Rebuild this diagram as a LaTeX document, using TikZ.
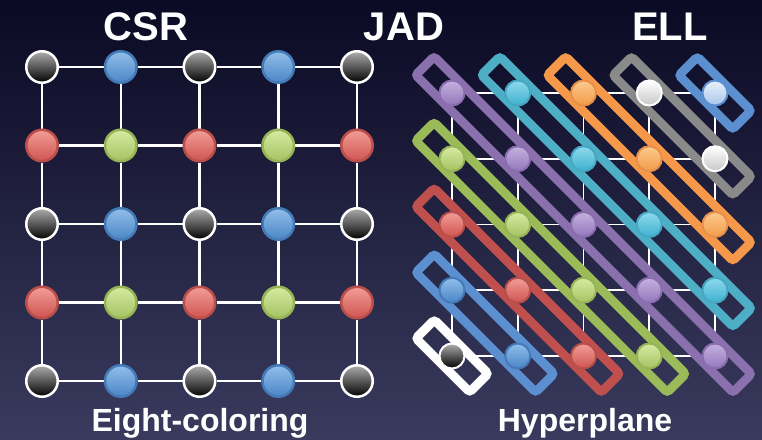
\documentclass[tikz,border=0pt]{standalone}
\usepackage{xcolor}
\usepackage{fontspec}
\setmainfont{Liberation Sans}
\usepackage{tikz}
\usetikzlibrary{positioning}
\pgfdeclarelayer{sky}
\pgfdeclarelayer{wires}
\pgfsetlayers{sky,wires,main}

\definecolor{SkyTop}{HTML}{0A0A24}
\definecolor{SkyBot}{HTML}{3A3A5E}
\definecolor{BlueTop}{HTML}{92BEEA}
\definecolor{BlueBot}{HTML}{4A86C6}
\definecolor{BlueRim}{HTML}{447AB6}
\definecolor{RedTop}{HTML}{F29D98}
\definecolor{RedBot}{HTML}{CF544F}
\definecolor{RedRim}{HTML}{B94E4A}
\definecolor{GreenTop}{HTML}{D6EAA2}
\definecolor{GreenBot}{HTML}{A4C362}
\definecolor{GreenRim}{HTML}{96B456}
\definecolor{PurpleTop}{HTML}{C5B2DF}
\definecolor{PurpleBot}{HTML}{9476BA}
\definecolor{PurpleRim}{HTML}{8A6DAE}
\definecolor{CyanTop}{HTML}{8FDAEE}
\definecolor{CyanBot}{HTML}{3EB0CD}
\definecolor{CyanRim}{HTML}{45A7C1}
\definecolor{OrangeTop}{HTML}{FBCB8E}
\definecolor{OrangeBot}{HTML}{F39A48}
\definecolor{OrangeRim}{HTML}{E89049}
\definecolor{PaleTop}{HTML}{EAF2FC}
\definecolor{PaleBot}{HTML}{A8C6EA}
\definecolor{BoxPurpleC}{HTML}{8B70AE}
\definecolor{BoxCyanC}{HTML}{4DAEC6}
\definecolor{BoxOrangeC}{HTML}{F6984A}
\definecolor{BoxGrayC}{HTML}{8A8A8A}
\definecolor{BoxBlueC}{HTML}{5B8FCF}
\definecolor{BoxGreenC}{HTML}{9BBB59}
\definecolor{BoxRedC}{HTML}{C0504D}

\begin{document}
\begin{tikzpicture}[x=1pt, y=-1pt]
\tikzset{BallStyle/.style = {shape=circle, inner sep=0pt, minimum size=31.5pt, line width=2.5pt}}
\tikzset{SmallBall/.style = {minimum size=25pt, line width=2pt}}
\tikzset{GrayBall/.style = {BallStyle, draw=white, top color=black!32, bottom color=black}}
\tikzset{BlueBall/.style = {BallStyle, draw=BlueRim, top color=BlueTop, bottom color=BlueBot}}
\tikzset{RedBall/.style = {BallStyle, draw=RedRim, top color=RedTop, bottom color=RedBot}}
\tikzset{GreenBall/.style = {BallStyle, draw=GreenRim, top color=GreenTop, bottom color=GreenBot}}
\tikzset{PurpleBall/.style = {BallStyle, draw=PurpleRim, top color=PurpleTop, bottom color=PurpleBot}}
\tikzset{CyanBall/.style = {BallStyle, draw=CyanRim, top color=CyanTop, bottom color=CyanBot}}
\tikzset{OrangeBall/.style = {BallStyle, draw=OrangeRim, top color=OrangeTop, bottom color=OrangeBot}}
\tikzset{WhiteBall/.style = {BallStyle, draw=white, top color=white, bottom color=black!22}}
\tikzset{PaleBall/.style = {BallStyle, draw=BoxBlueC, top color=PaleTop, bottom color=PaleBot}}
\tikzset{BoxStyle/.style = {shape=rectangle, rotate=-45, minimum height=26pt, line width=9pt, rounded corners=3pt}}
\tikzset{GridLine/.style = {draw=white, line width=2.5pt}}
\tikzset{ThinLine/.style = {draw=white, line width=1.8pt}}
\tikzset{TitleStyle/.style = {text=white, anchor=base, inner sep=0pt, font=\fontsize{40}{48}\selectfont\bfseries}}
\tikzset{CaptionStyle/.style = {text=white, anchor=base, inner sep=0pt, font=\fontsize{32}{38}\selectfont\bfseries}}
  \useasboundingbox (0,0) rectangle (762,439);
  \begin{pgfonlayer}{sky}
	\shade[top color=SkyTop, bottom color=SkyBot] (0,0) rectangle (762,439);
  \end{pgfonlayer}
  % eight-coloring grid
  \foreach \row in {0,...,4} {
	\foreach \col in {0,...,4} {
	  \pgfmathtruncatemacro\kind{2*mod(\row,2)+mod(\col,2)}
	  \ifcase\kind \def\ball{GrayBall}\or\def\ball{BlueBall}\or\def\ball{RedBall}\else\def\ball{GreenBall}\fi
	  \node[\ball] (g\row\col) at ({42+78.75*\col}, {67+78.5*\row}) {};
	}
  }
  % hyperplane boxes
  \foreach \dd/\bx/\ball [count=\hh] in {4/BoxBlueC/PaleBall, 3/BoxGrayC/WhiteBall, 2/BoxOrangeC/OrangeBall,
	  1/BoxCyanC/CyanBall, 0/BoxPurpleC/PurpleBall, -1/BoxGreenC/GreenBall, -2/BoxRedC/RedBall,
	  -3/BoxBlueC/BlueBall, -4/white/GrayBall} {
	\pgfmathsetmacro\blen{76+93.2*(4-abs(\dd))}
	\pgfmathtruncatemacro\last{4-abs(\dd)}
	\pgfmathsetmacro\bxx{452+65.75*(2+\dd/2)}
	\pgfmathsetmacro\byy{93+65.75*(2-\dd/2)}
	\node[BoxStyle, draw=\bx, minimum width=\blen pt] (hyp\hh) at (\bxx, \byy) {};
	\foreach \kk in {0,...,\last} {
	  \pgfmathtruncatemacro\row{max(-\dd,0)+\kk}
	  \pgfmathtruncatemacro\col{max(\dd,0)+\kk}
	  \node[\ball, SmallBall] (j\row\col) at ({452+65.75*\col}, {93+65.75*\row}) {};
	}
  }
  \begin{pgfonlayer}{wires}
	\foreach \row in {0,...,4} {
	  \foreach \col [evaluate=\col as \nxt using int(\col+1)] in {0,...,3} {
		\draw[GridLine] (g\row\col) -- (g\row\nxt);
		\draw[GridLine] (g\col\row) -- (g\nxt\row);
		\draw[ThinLine] (j\row\col) -- (j\row\nxt);
		\draw[ThinLine] (j\col\row) -- (j\nxt\row);
	  }
	}
  \end{pgfonlayer}
  \node[TitleStyle] (csr) at (146,40) {CSR};
  \node[TitleStyle] (jad) at (404,40) {JAD};
  \node[TitleStyle] (ell) at (670,40) {ELL};
  \node[CaptionStyle] (eight) at (200,431) {Eight-coloring};
  \node[CaptionStyle] (hyper) at (585,431) {Hyperplane};
\end{tikzpicture}
\end{document}
